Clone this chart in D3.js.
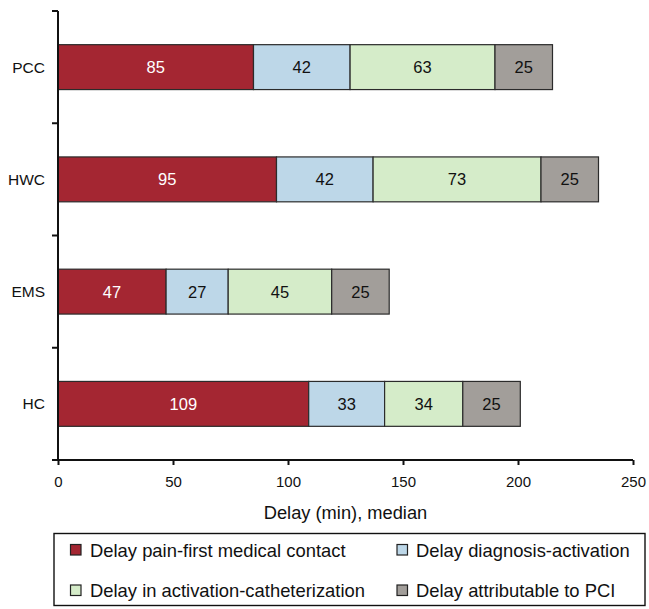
<!DOCTYPE html>
<html>
<head>
<meta charset="utf-8">
<script src="https://cdn.jsdelivr.net/npm/d3@7/dist/d3.min.js"></script>
<style>
  html, body { margin: 0; padding: 0; background: #fff; }
  svg { display: block; font-family: "Liberation Sans", Arial, sans-serif; }
</style>
</head>
<body>
<svg id="chart" width="649" height="609"></svg>
<script>
// Median delay components (minutes) per referral pathway
const categories = ["PCC", "HWC", "EMS", "HC"];
const seriesNames = [
  "Delay pain-first medical contact",
  "Delay diagnosis-activation",
  "Delay in activation-catheterization",
  "Delay attributable to PCI"
];
const painToContact = [85, 95, 47, 109];
const diagnosisToActivation = [42, 42, 27, 33];
const activationToCath = [63, 73, 45, 34];
const pciDelay = [25, 25, 25, 25];
const xTicks = [0, 50, 100, 150, 200, 250];

const seriesValues = [painToContact, diagnosisToActivation, activationToCath, pciDelay];
const colors = ["#a42632", "#bdd7e8", "#d5ecc9", "#a29e9a"];
const labelColors = ["#ffffff", "#111111", "#111111", "#111111"];

const svg = d3.select("#chart");
const margin = { left: 58, right: 16, top: 11, bottom: 149 };
const W = 649, H = 609;
const plotBottom = H - margin.bottom;

const x = d3.scaleLinear().domain([0, 250]).range([margin.left, 633]);
const y = d3.scaleBand().domain(categories).range([margin.top, plotBottom])
  .paddingInner(0.6).paddingOuter(0.3);

// Stack the segments
const table = categories.map((c, i) => {
  const row = { cat: c };
  seriesNames.forEach((s, k) => row[s] = seriesValues[k][i]);
  return row;
});
const stacked = d3.stack().keys(seriesNames)(table);

const g = svg.append("g");
stacked.forEach((layer, k) => {
  const lg = g.append("g");
  lg.selectAll("rect").data(layer).join("rect")
    .attr("x", d => x(d[0]))
    .attr("y", d => y(d.data.cat))
    .attr("width", d => x(d[1]) - x(d[0]))
    .attr("height", y.bandwidth())
    .attr("fill", colors[k])
    .attr("stroke", "#2b2b2b")
    .attr("stroke-width", 1.2);
  lg.selectAll("text").data(layer).join("text")
    .attr("x", d => (x(d[0]) + x(d[1])) / 2)
    .attr("y", d => y(d.data.cat) + y.bandwidth() / 2)
    .attr("dy", "0.36em")
    .attr("text-anchor", "middle")
    .attr("font-size", 16.5)
    .attr("fill", labelColors[k])
    .text(d => d[1] - d[0]);
});

// Y axis: category labels, ticks at band boundaries
const yAxisG = svg.append("g");
yAxisG.append("line")
  .attr("x1", margin.left).attr("x2", margin.left)
  .attr("y1", margin.top).attr("y2", plotBottom)
  .attr("stroke", "#111").attr("stroke-width", 2);
const boundaries = d3.range(categories.length + 1).map(i => margin.top + i * (plotBottom - margin.top) / categories.length);
yAxisG.selectAll("line.tick").data(boundaries).join("line")
  .attr("class", "tick")
  .attr("x1", margin.left - 6).attr("x2", margin.left)
  .attr("y1", d => d).attr("y2", d => d)
  .attr("stroke", "#111").attr("stroke-width", 2);
yAxisG.selectAll("text").data(categories).join("text")
  .attr("x", margin.left - 13)
  .attr("y", d => y(d) + y.bandwidth() / 2)
  .attr("dy", "0.36em")
  .attr("text-anchor", "end")
  .attr("font-size", 15.5)
  .attr("fill", "#111")
  .text(d => d);

// X axis
const xAxis = d3.axisBottom(x).tickValues(xTicks).tickSize(5).tickPadding(11);
const xg = svg.append("g").attr("transform", `translate(0,${plotBottom})`).call(xAxis);
xg.select(".domain").attr("stroke", "#111").attr("stroke-width", 2)
  .attr("d", `M${x(0)},0H${x(250)}`);
xg.selectAll(".tick line").attr("stroke", "#111").attr("stroke-width", 2);
xg.selectAll(".tick text").attr("font-size", 15).attr("fill", "#111")
  .attr("font-family", "Liberation Sans, Arial, sans-serif");

svg.append("text")
  .attr("x", (x(0) + x(250)) / 2)
  .attr("y", 519)
  .attr("text-anchor", "middle")
  .attr("font-size", 18.3)
  .attr("fill", "#111")
  .text("Delay (min), median");

// Legend
const legend = svg.append("g");
legend.append("rect")
  .attr("x", 54).attr("y", 533.5).attr("width", 591).attr("height", 72)
  .attr("fill", "none").attr("stroke", "#111").attr("stroke-width", 1.4);
const legendPos = [[70.5, 544.5], [397, 544.5], [70.5, 585], [397, 585]];
const legendTextX = [90, 416, 90, 416];
seriesNames.forEach((s, k) => {
  const [lx, ly] = legendPos[k];
  legend.append("rect")
    .attr("x", lx).attr("y", ly).attr("width", 10.5).attr("height", 10.5)
    .attr("fill", colors[k]).attr("stroke", "#222").attr("stroke-width", 1.2);
  legend.append("text")
    .attr("x", legendTextX[k]).attr("y", ly + 12)
    .attr("font-size", 18.4)
    .attr("fill", "#111")
    .text(s);
});
</script>
</body>
</html>
